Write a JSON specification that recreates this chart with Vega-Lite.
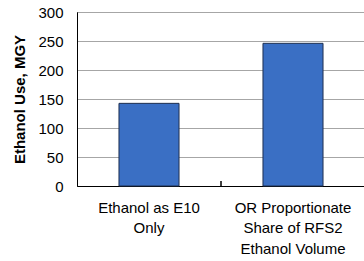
{
  "$schema": "https://vega.github.io/schema/vega-lite/v6.json",
  "width": 288,
  "height": 174,
  "autosize": {"type": "none"},
  "padding": {"left": 77, "top": 12, "right": 0, "bottom": 75},
  "background": "white",
  "config": {
    "font": "Liberation Sans",
    "view": {"stroke": "black", "strokeWidth": 1},
    "axisY": {
      "labelOverlap": false,
      "titleFontSize": 15,
      "titleFontWeight": "bold",
      "titleColor": "black",
      "titlePadding": 10,
      "values": [0, 50, 100, 150, 200, 250, 300],
      "labelFontSize": 15,
      "labelColor": "black",
      "labelPadding": 14,
      "ticks": false,
      "domainColor": "black",
      "gridColor": "#a6a6a6",
      "gridOpacity": 1
    }
  },
  "data": {
    "values": [
      {"category": "Ethanol as E10|Only", "use": 142.5},
      {"category": "OR Proportionate|Share of RFS2|Ethanol Volume", "use": 246}
    ]
  },
  "layer": [
    {
      "mark": {"type": "bar", "color": "#3a6fc4", "stroke": "#1f3050", "strokeWidth": 1},
      "encoding": {
        "x": {
          "field": "category",
          "type": "nominal",
          "sort": null,
          "scale": {"paddingInner": 0.583, "paddingOuter": 0.2915},
          "axis": {
            "title": null,
            "labelAngle": 0,
            "labelExpr": "split(datum.label, '|')",
            "labelFontSize": 15,
            "labelColor": "black",
            "labelLineHeight": 20.5,
            "labelPadding": 14,
            "ticks": false,
            "domainColor": "black",
            "grid": false
          }
        },
        "y": {
          "field": "use",
          "type": "quantitative",
          "scale": {"domain": [0, 300], "nice": false},
          "axis": {
            "title": "Ethanol Use, MGY",
            "values": [0, 50, 100, 150, 200, 250, 300]
          }
        }
      }
    },
    {
      "mark": {"type": "rule", "color": "black", "strokeWidth": 1},
      "encoding": {
        "x": {"datum": 1, "type": "quantitative", "scale": {"domain": [0, 2]}, "axis": null},
        "y": {
          "datum": 0,
          "type": "quantitative",
          "axis": {
            "title": "Ethanol Use, MGY",
            "values": [0, 50, 100, 150, 200, 250, 300]
          }
        },
        "y2": {"datum": 8.6}
      }
    }
  ],
  "resolve": {"scale": {"x": "independent"}}
}
